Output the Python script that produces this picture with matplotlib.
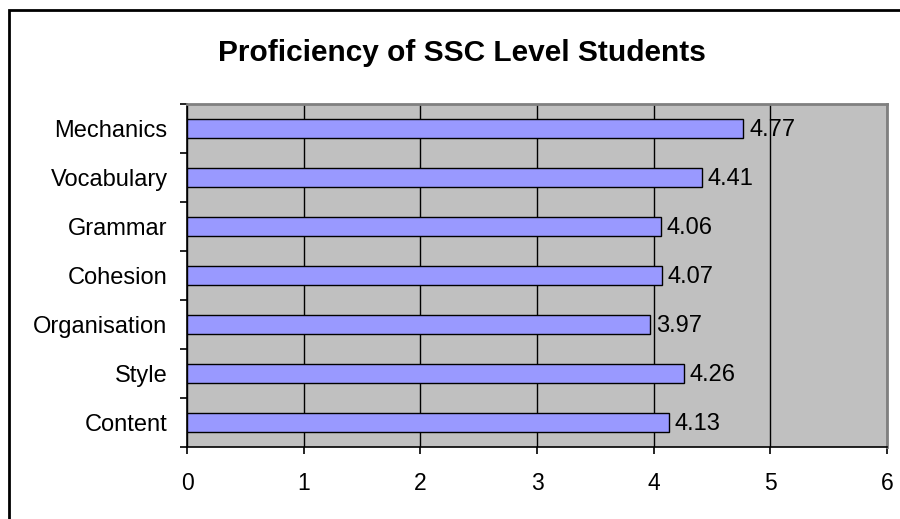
import matplotlib
matplotlib.use("Agg")
import matplotlib.pyplot as plt
from matplotlib.patches import Rectangle
import numpy as np

plt.rcParams["font.family"] = ["Liberation Sans", "DejaVu Sans"]

categories = ["Content", "Style", "Organisation", "Cohesion", "Grammar", "Vocabulary", "Mechanics"]
scores = [4.13, 4.26, 3.97, 4.07, 4.06, 4.41, 4.77]
x_ticks = [0, 1, 2, 3, 4, 5, 6]

fig = plt.figure(figsize=(9.0, 5.19), dpi=100)
ax = fig.add_axes([187 / 900, 1 - 447 / 519, 700 / 900, 343 / 519])

ypos = np.arange(len(categories))
ax.barh(ypos, scores, height=0.37, color="#9999FF", edgecolor="black", linewidth=1.0, zorder=3)
for y, v in zip(ypos, scores):
    ax.annotate(f"{v:.2f}", (v, y), xytext=(4, -1), textcoords="offset points",
                va="center", ha="left", fontsize=17, zorder=4)

ax.set_facecolor("#C0C0C0")
ax.set_xlim(0, 6)
ax.set_ylim(-0.5, len(categories) - 0.5)
ax.set_xticks(x_ticks)
ax.set_xticklabels([str(t) for t in x_ticks], fontsize=16.5)
ax.tick_params(axis="x", length=5, width=1.2, direction="out", pad=13)
ax.grid(axis="x", color="black", linewidth=1.0, zorder=1)

ax.set_yticks(ypos)
ax.set_yticklabels(categories, fontsize=17)
ax.set_yticks(np.arange(-0.5, len(categories), 1.0), minor=True)
ax.tick_params(axis="y", which="major", length=0, pad=14)
ax.tick_params(axis="y", which="minor", length=5, width=1.2, direction="out")

for side in ("left", "bottom"):
    ax.spines[side].set_color("black")
    ax.spines[side].set_linewidth(1.2)
for side in ("top", "right"):
    ax.spines[side].set_color("#808080")
    ax.spines[side].set_linewidth(2.0)

fig.text(462 / 900, 1 - 53 / 519, "Proficiency of SSC Level Students",
         ha="center", va="center", fontsize=21.5, fontweight="bold")

fig.patches.append(Rectangle((9 / 900, -0.1), 1.0, 1 - 10 / 519 + 0.1,
                             transform=fig.transFigure, fill=False,
                             edgecolor="black", linewidth=2.0))

fig.savefig("out.png", dpi=100)
